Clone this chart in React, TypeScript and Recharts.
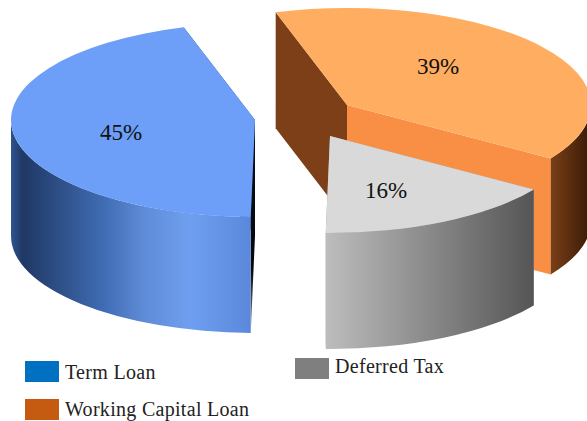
import { Legend, Pie, PieChart } from "recharts"

const CATEGORIES = ["Term Loan", "Working Capital Loan", "Deferred Tax"]
const SHARES = [45, 39, 16]
const SWATCH_COLORS = ["#0070c0", "#c55a11", "#7f7f7f"]

const TOP_COLORS = ["#6d9ff8", "#ffad60", "#d9d9d9"]
/** Radial wall seen at the slice's start edge and at its end edge. */
const START_WALL = ["url(#wallSideBlue)", "#7c3f17", "#9a9a9a"]
const END_WALL = ["#1d3a70", "#f98f45", "#9a9a9a"]
const OUTER_WALL = ["url(#wallBlue)", "url(#wallOrange)", "url(#wallGrey)"]

const W = 587
const H = 421
const FONT = '"Liberation Serif", serif'

/** Flattening of the pie disc and height of the extruded rim. */
const SQUASH = 97 / 244
const DEPTH = 116

/** Explode offset per slice, and label anchor relative to the slice's apex. */
const EXPLODE = [
  { dx: -51, dy: 1 },
  { dx: 41, dy: -14 },
  { dx: 24, dy: 17 },
]
const LABEL_AT = [
  { x: 121, y: 140 },
  { x: 438, y: 74 },
  { x: 386, y: 198 },
]
/** textY is the top of the legend text, which doesn't sit level with every swatch. */
const LEGEND_AT = [
  { x: 25, y: 361, textY: 361 },
  { x: 25, y: 399, textY: 398 },
  { x: 295, y: 358, textY: 355 },
]

const pieData = CATEGORIES.map((name, i) => ({
  name,
  value: SHARES[i],
  fill: SWATCH_COLORS[i],
}))

function SliceShape(props: any) {
  const { cx, cy, outerRadius: rx, startAngle, endAngle, name, value } = props
  const i = CATEGORIES.indexOf(name)
  const ax = cx + EXPLODE[i].dx
  const ay = cy + EXPLODE[i].dy
  const ry = rx * SQUASH

  const pt = (deg: number, drop = 0) => {
    const t = (deg * Math.PI) / 180
    return { x: ax + rx * Math.cos(t), y: ay - ry * Math.sin(t) + drop }
  }
  const p1 = pt(startAngle)
  const p2 = pt(endAngle)
  const large = Math.abs(startAngle - endAngle) > 180 ? 1 : 0

  const side = (p: { x: number; y: number }) =>
    `M${ax},${ay} L${p.x},${p.y} L${p.x},${p.y + DEPTH} L${ax},${ay + DEPTH} Z`

  // only the part of the rim on the lower half of the ellipse faces the viewer
  const rims: string[] = []
  for (let k = -1; k <= 2; k++) {
    const hi = Math.min(startAngle, -360 * k)
    const lo = Math.max(endAngle, -180 - 360 * k)
    if (hi <= lo) continue
    const a = pt(hi)
    const b = pt(lo)
    rims.push(
      `M${a.x},${a.y} A${rx},${ry} 0 0 1 ${b.x},${b.y} L${b.x},${b.y + DEPTH} ` +
        `A${rx},${ry} 0 0 0 ${a.x},${a.y + DEPTH} Z`
    )
  }

  return (
    <g>
      <path d={side(p2)} fill={END_WALL[i]} />
      <path d={side(p1)} fill={START_WALL[i]} />
      {rims.map((d) => (
        <path key={d} d={d} fill={OUTER_WALL[i]} />
      ))}
      <path
        d={`M${ax},${ay} L${p1.x},${p1.y} A${rx},${ry} 0 ${large} 1 ${p2.x},${p2.y} Z`}
        fill={TOP_COLORS[i]}
      />
      <text
        x={LABEL_AT[i].x}
        y={LABEL_AT[i].y}
        textAnchor="middle"
        fontFamily={FONT}
        fontSize={23}
        fill="#111"
      >
        {value}%
      </text>
    </g>
  )
}

function LegendBoxes() {
  return (
    <div style={{ position: "relative", width: W, height: H, fontFamily: FONT }}>
      {CATEGORIES.map((name, i) => (
        <div key={name}>
          <div
            style={{
              position: "absolute",
              left: LEGEND_AT[i].x,
              top: LEGEND_AT[i].y,
              width: 34,
              height: 21,
              background: SWATCH_COLORS[i],
            }}
          />
          <div
            style={{
              position: "absolute",
              left: LEGEND_AT[i].x + 40,
              top: LEGEND_AT[i].textY,
              fontSize: 20,
              lineHeight: "22px",
              letterSpacing: 0.3,
              color: "#222",
              whiteSpace: "nowrap",
            }}
          >
            {name}
          </div>
        </div>
      ))}
    </div>
  )
}

export default function App() {
  return (
    <div style={{ position: "absolute", left: 0, top: 0, width: W, height: H, background: "#fff", overflow: "hidden" }}>
      <PieChart width={W} height={H} margin={{ top: 0, right: 0, bottom: 0, left: 0 }}>
        <defs>
          <linearGradient id="wallBlue" x1="0" y1="0" x2="1" y2="0">
            <stop offset="0" stopColor="#2f5490" />
            <stop offset="0.05" stopColor="#1f3864" />
            <stop offset="0.4" stopColor="#416eb6" />
            <stop offset="0.55" stopColor="#5f8bd6" />
            <stop offset="0.75" stopColor="#6f9ff0" />
            <stop offset="1" stopColor="#5a88da" />
          </linearGradient>
          <linearGradient id="wallOrange" x1="0" y1="0" x2="1" y2="0">
            <stop offset="0" stopColor="#7b3f17" />
            <stop offset="1" stopColor="#361a06" />
          </linearGradient>
          <linearGradient id="wallGrey" x1="0" y1="0" x2="1" y2="0">
            <stop offset="0" stopColor="#bdbdbd" />
            <stop offset="1" stopColor="#555555" />
          </linearGradient>
          <linearGradient id="wallSideBlue" x1="0" y1="0" x2="0" y2="1">
            <stop offset="0" stopColor="#0b0f1c" />
            <stop offset="0.7" stopColor="#05070d" />
            <stop offset="1" stopColor="#8a8f99" />
          </linearGradient>
        </defs>
        <Pie
          data={pieData}
          dataKey="value"
          nameKey="name"
          cx={306}
          cy={119}
          innerRadius={0}
          outerRadius={244}
          startAngle={-91}
          endAngle={-451}
          stroke="none"
          label={false}
          labelLine={false}
          isAnimationActive={false}
          shape={SliceShape}
        />
        <Legend
          content={() => <LegendBoxes />}
          wrapperStyle={{ position: "absolute", left: 0, top: 0, width: W, height: H, pointerEvents: "none" }}
        />
      </PieChart>
    </div>
  )
}
